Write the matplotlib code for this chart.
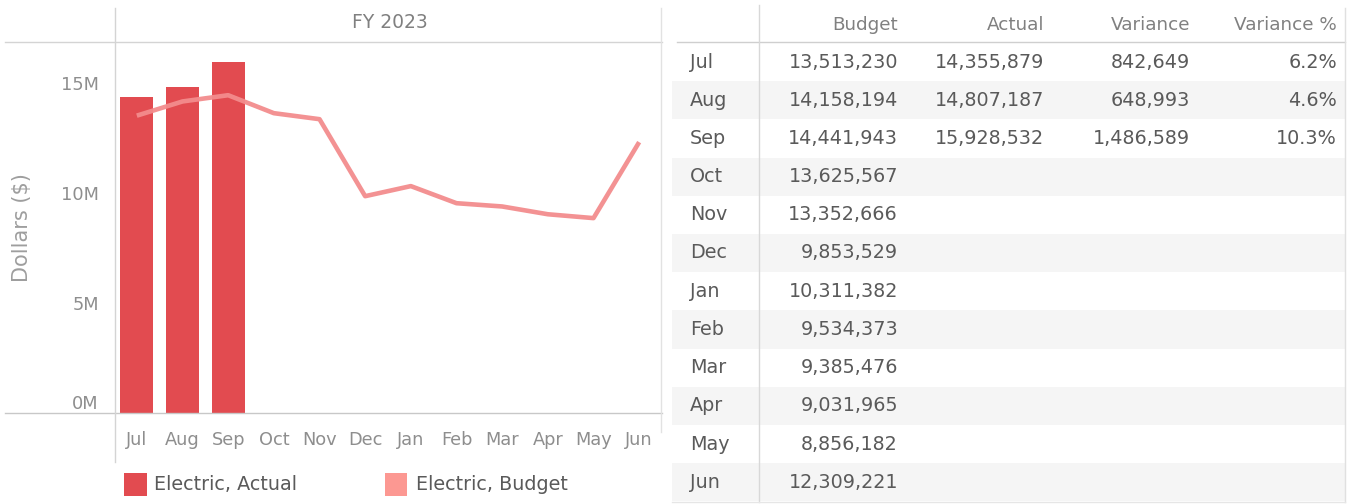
import matplotlib
matplotlib.use("Agg")
import matplotlib.pyplot as plt
from matplotlib.lines import Line2D
from matplotlib.patches import Rectangle
from matplotlib.ticker import FuncFormatter

plt.rcParams['font.family'] = ['DejaVu Sans']

months = ["Jul", "Aug", "Sep", "Oct", "Nov", "Dec", "Jan", "Feb", "Mar", "Apr", "May", "Jun"]
budget = [13513230, 14158194, 14441943, 13625567, 13352666, 9853529,
          10311382, 9534373, 9385476, 9031965, 8856182, 12309221]
actual = [14355879, 14807187, 15928532]
variance = [842649, 648993, 1486589]
variance_pct = [6.2, 4.6, 10.3]
y_ticks = [0, 5e6, 10e6, 15e6]
table_headers = ["Budget", "Actual", "Variance", "Variance %"]
panel_title = "FY 2023"
y_label = "Dollars ($)"
legend_labels = ["Electric, Actual", "Electric, Budget"]

W, H = 1349, 504
BAR_COLOR = "#E24B50"
LINE_COLOR = "#F38C8D"
BUDGET_SWATCH = "#FC9892"
RULE = "#D4D4D4"
TXT = "#5A5A5A"
LIGHT_TXT = "#8E8E8E"

fig = plt.figure(figsize=(W / 100, H / 100), dpi=100)
fig.patch.set_facecolor("white")


def fx(x):
    return x / W


def fy(y):
    return 1 - y / H


def hline(y, x0, x1, color=RULE, lw=1.0):
    fig.add_artist(Line2D([fx(x0), fx(x1)], [fy(y), fy(y)], color=color, lw=lw))


def vline(x, y0, y1, color=RULE, lw=1.0):
    fig.add_artist(Line2D([fx(x), fx(x)], [fy(y0), fy(y1)], color=color, lw=lw))


# ---- chart panel ----
ax_l, ax_r, ax_t, ax_b = 114, 662, 42, 413
ax = fig.add_axes([fx(ax_l), fy(ax_b), fx(ax_r) - fx(ax_l), fy(ax_t) - fy(ax_b)])
ax.set_facecolor("none")
x = list(range(len(months)))
ax.bar(x[:len(actual)], actual, width=0.72, color=BAR_COLOR, zorder=2)
ax.plot(x, budget, color=LINE_COLOR, lw=3.3, solid_joinstyle="round",
        solid_capstyle="butt", zorder=3, alpha=0.95)
ax.set_xlim(-0.5, len(months) - 0.5)
ax.set_ylim(0, 16.86e6)
ax.set_xticks(x)
ax.set_xticklabels(months)
ax.set_yticks(y_ticks)
ax.yaxis.set_major_formatter(FuncFormatter(lambda v, p: f"{v / 1e6:.0f}M"))
ax.tick_params(axis="both", length=0, labelsize=12.8, colors=LIGHT_TXT)
ax.tick_params(axis="x", pad=13)
ax.tick_params(axis="y", pad=11)
for lbl in ax.get_yticklabels():
    if lbl.get_text() == "0M":
        lbl.set_verticalalignment("bottom")
for s in ax.spines.values():
    s.set_visible(False)

fig.text(fx(22), fy(228), y_label, rotation=90, ha="center", va="center",
         fontsize=15, color="#9E9E9E")
fig.text(fx(390), fy(23), panel_title, ha="center", va="center",
         fontsize=13.5, color="#808080")

hline(42, 5, 662)
hline(412.5, 5, 662, color="#C8C8C8")
vline(115, 8, 462)
vline(661, 8, 432, color="#E2E2E2")

# legend
fig.add_artist(Rectangle((fx(124), fy(496)), fx(23), fy(473) - fy(496),
                         transform=fig.transFigure, color=BAR_COLOR, lw=0))
fig.text(fx(154), fy(485), legend_labels[0], ha="left", va="center",
         fontsize=13.8, color=TXT)
fig.add_artist(Rectangle((fx(385), fy(496)), fx(22), fy(473) - fy(496),
                         transform=fig.transFigure, color=BUDGET_SWATCH, lw=0))
fig.text(fx(416), fy(485), legend_labels[1], ha="left", va="center",
         fontsize=13.8, color=TXT)

# ---- table panel ----
row0, row_h = 62, 38.2
col_right = [898, 1044, 1190, 1337]
tbl_left, tbl_right = 672, 1345

for i in range(len(months)):
    yc = row0 + i * row_h
    if i % 2 == 1:
        fig.add_artist(Rectangle((fx(tbl_left), fy(yc + row_h / 2)),
                                 fx(tbl_right) - fx(tbl_left), row_h / H,
                                 transform=fig.transFigure, color="#F5F5F5",
                                 lw=0, zorder=0))

hline(42, tbl_left + 5, tbl_right, color="#CFCFCF")
vline(759, 5, 502, color="#D8D8D8")
vline(1345, 8, 502, color="#E0E0E0")
hline(502, tbl_left, tbl_right, color="#E6E6E6")

for j, h in enumerate(table_headers):
    fig.text(fx(col_right[j]), fy(25), h, ha="right", va="center",
             fontsize=13.2, color="#808080")

for i, m in enumerate(months):
    yc = row0 + i * row_h
    fig.text(fx(690), fy(yc), m, ha="left", va="center", fontsize=13.8, color=TXT)
    fig.text(fx(col_right[0]), fy(yc), f"{budget[i]:,}", ha="right",
             va="center", fontsize=13.8, color=TXT)
    if i < len(actual):
        fig.text(fx(col_right[1]), fy(yc), f"{actual[i]:,}", ha="right",
                 va="center", fontsize=13.8, color=TXT)
        fig.text(fx(col_right[2]), fy(yc), f"{variance[i]:,}", ha="right",
                 va="center", fontsize=13.8, color=TXT)
        fig.text(fx(col_right[3]), fy(yc), f"{variance_pct[i]:.1f}%", ha="right",
                 va="center", fontsize=13.8, color=TXT)

fig.savefig("out.png", dpi=100, facecolor="white")
